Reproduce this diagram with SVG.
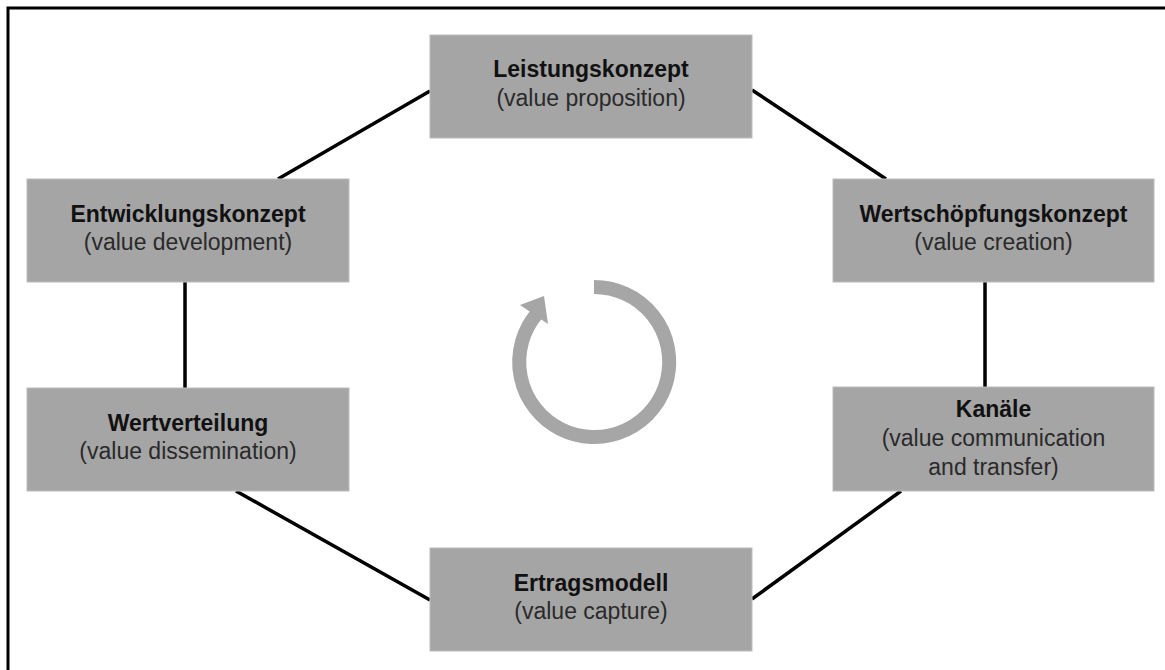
<svg xmlns="http://www.w3.org/2000/svg" width="1165" height="670" viewBox="0 0 1165 670">
<defs>
<style>
.box{fill:#a5a5a5;stroke:#bcbcbc;stroke-width:1}
.t{font-family:"Liberation Sans",Arial,sans-serif;font-size:23px;text-anchor:middle}
.b{font-weight:bold;fill:#111}
.s{fill:#2a2a2a}
.con{stroke:#000;stroke-width:3.5;fill:none;stroke-linecap:butt}
</style>
</defs>
<rect width="1165" height="670" fill="#fff"/>
<path d="M8,670 V8 H1165" fill="none" stroke="#000" stroke-width="3"/>
<g id="connectors">
<line class="con" x1="278" y1="179" x2="430" y2="91"/>
<line class="con" x1="752" y1="90" x2="886" y2="179"/>
<line class="con" x1="185" y1="282" x2="185" y2="388"/>
<line class="con" x1="985" y1="282" x2="985" y2="387"/>
<line class="con" x1="236" y1="491" x2="430" y2="600"/>
<line class="con" x1="901" y1="491" x2="752" y2="599"/>
</g>
<g id="cycle">
<path d="M594,287 A75,75 0 1 1 537,313.5" fill="none" stroke="#a6a6a6" stroke-width="14"/>
<polygon points="544,296 520,305 548,324" fill="#a6a6a6"/>
</g>
<g id="n-leistung">
<rect class="box" x="430" y="35" width="322" height="103"/>
<text class="t b" x="591" y="77">Leistungskonzept</text>
<text class="t s" x="591" y="106">(value proposition)</text>
</g>
<g id="n-wertschoepfung">
<rect class="box" x="833" y="179" width="321" height="103"/>
<text class="t b" x="993.5" y="222">Wertschöpfungskonzept</text>
<text class="t s" x="993.5" y="250">(value creation)</text>
</g>
<g id="n-kanaele">
<rect class="box" x="833" y="387" width="321" height="104"/>
<text class="t b" x="993.5" y="417">Kanäle</text>
<text class="t s" x="993.5" y="446">(value communication</text>
<text class="t s" x="993.5" y="475">and transfer)</text>
</g>
<g id="n-ertrag">
<rect class="box" x="430" y="548" width="322" height="103"/>
<text class="t b" x="591" y="591">Ertragsmodell</text>
<text class="t s" x="591" y="619">(value capture)</text>
</g>
<g id="n-wertverteilung">
<rect class="box" x="27" y="388" width="322" height="103"/>
<text class="t b" x="188" y="431">Wertverteilung</text>
<text class="t s" x="188" y="459">(value dissemination)</text>
</g>
<g id="n-entwicklung">
<rect class="box" x="27" y="179" width="322" height="103"/>
<text class="t b" x="188" y="222">Entwicklungskonzept</text>
<text class="t s" x="188" y="250">(value development)</text>
</g>
</svg>
